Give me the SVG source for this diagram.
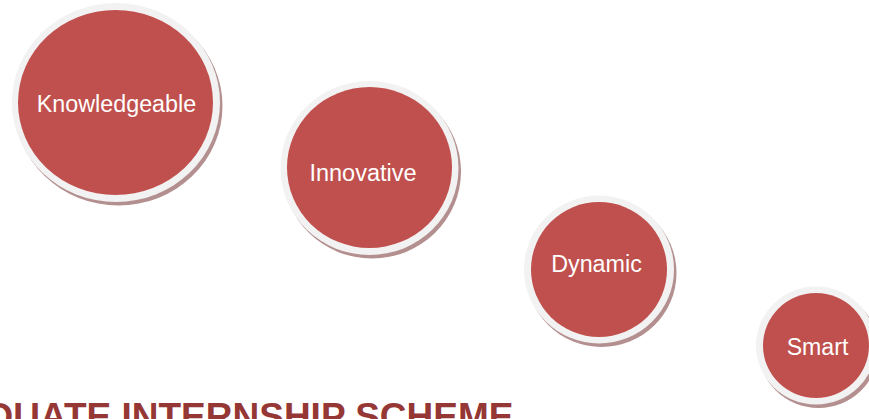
<svg xmlns="http://www.w3.org/2000/svg" width="869" height="419" viewBox="0 0 869 419">
<style>
.shadow{fill:#b48f8f}
.ring{fill:#f2f2f2}
.core{fill:#c0504d}
.lbl{font-family:"Liberation Sans",Arial,sans-serif;fill:#ffffff;text-anchor:middle}
.title{font-family:"Liberation Sans",Arial,sans-serif;font-weight:bold;fill:#953735}
</style>
<rect x="0" y="0" width="869" height="419" fill="#ffffff"/>
<g id="connectors"></g>
<g id="node-knowledgeable">
<ellipse class="shadow" cx="118.5" cy="106" rx="104" ry="99.5"/>
<ellipse class="ring" cx="116" cy="102.5" rx="104" ry="99.5"/>
<ellipse class="core" cx="115.5" cy="102.5" rx="97.5" ry="92.5"/>
<text class="lbl" x="116.5" y="112" font-size="23.3">Knowledgeable</text>
</g>
<g id="node-innovative">
<ellipse class="shadow" cx="372" cy="171.5" rx="89" ry="87"/>
<ellipse class="ring" cx="369.5" cy="168" rx="89" ry="87"/>
<ellipse class="core" cx="369.5" cy="167.5" rx="82.5" ry="80.5"/>
<text class="lbl" x="363" y="180.7" font-size="23.5">Innovative</text>
</g>
<g id="node-dynamic">
<ellipse class="shadow" cx="601.5" cy="273" rx="75" ry="74"/>
<ellipse class="ring" cx="599" cy="269.5" rx="75" ry="74"/>
<ellipse class="core" cx="599" cy="269.5" rx="68" ry="67.5"/>
<text class="lbl" x="596.5" y="272.3" font-size="23.3">Dynamic</text>
</g>
<g id="node-smart">
<ellipse class="shadow" cx="818.5" cy="349" rx="60" ry="59"/>
<ellipse class="ring" cx="816" cy="345.5" rx="60" ry="59"/>
<ellipse class="core" cx="816" cy="345.5" rx="53" ry="52.5"/>
<text class="lbl" x="817.5" y="355" font-size="23.1">Smart</text>
</g>
<text class="title" x="513.5" y="429.2" font-size="37" text-anchor="end">DUATE INTERNSHIP SCHEME</text>
</svg>
